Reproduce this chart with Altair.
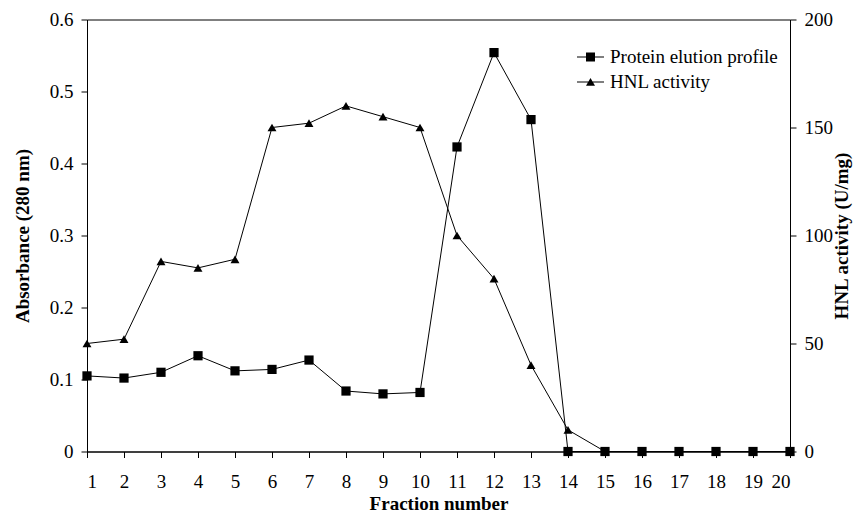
import altair as alt
import pandas as pd

fractions = list(range(1, 21))
protein = [0.105, 0.102, 0.110, 0.133, 0.112, 0.114, 0.127, 0.084, 0.080, 0.082,
           0.423, 0.554, 0.461, 0, 0, 0, 0, 0, 0, 0]
hnl = [50, 52, 88, 85, 89, 150, 152, 160, 155, 150,
       100, 80, 40, 10, 0, 0, 0, 0, 0, 0]
series_names = ["Protein elution profile", "HNL activity"]
left_ticks = [0, 0.1, 0.2, 0.3, 0.4, 0.5, 0.6]
right_ticks = [0, 50, 100, 150, 200]

FONT = "Liberation Serif"

df_p = pd.DataFrame({"fraction": fractions, "value": protein, "series": series_names[0]})
df_h = pd.DataFrame({"fraction": fractions, "value": hnl, "series": series_names[1]})
df_all = pd.concat([df_p, df_h], ignore_index=True)

x_enc = alt.X(
    "fraction:Q",
    scale=alt.Scale(domain=[1, 20], nice=False, zero=False),
    axis=alt.Axis(values=fractions, format="d", title="Fraction number",
                  labelPadding=15, titlePadding=3),
)

y_left = alt.Y(
    "value:Q",
    scale=alt.Scale(domain=[0, 0.6], nice=False),
    axis=alt.Axis(orient="left", values=left_ticks, title="Absorbance (280 nm)",
                  labelExpr="datum.value == 0 ? '0' : format(datum.value, '.1f')",
                  labelPadding=8, titlePadding=17),
)
y_right = alt.Y(
    "value:Q",
    scale=alt.Scale(domain=[0, 200], nice=False),
    axis=alt.Axis(orient="right", values=right_ticks, title="HNL activity (U/mg)",
                  format="d", labelPadding=8, titlePadding=0,
                  titleAngle=-90, titleBaseline="top"),
)

prot_line = alt.Chart(df_p).mark_line(color="black", strokeWidth=1).encode(x=x_enc, y=y_left)
prot_pts = alt.Chart(df_p).mark_point(shape="square", filled=True, size=85,
                                      color="black", opacity=1).encode(x=x_enc, y=y_left)
hnl_line = alt.Chart(df_h).mark_line(color="black", strokeWidth=1).encode(x=x_enc, y=y_right)
hnl_pts = alt.Chart(df_h).mark_point(shape="triangle-up", filled=True, size=80,
                                     color="black", opacity=1).encode(x=x_enc, y=y_right)

# legend symbols: a thin horizontal bar (the line) plus the marker, as filled paths
sq_path = "M-3,-0.11H3V0.11H-3ZM-1,-1H1V1H-1Z"
tri_path = "M-3,-0.11H3V0.11H-3ZM0,-0.9L1,0.85H-1Z"

legend_layer = alt.Chart(df_all).mark_point(
    filled=True, opacity=0, color="black"
).encode(
    x=x_enc,
    shape=alt.Shape(
        "series:N",
        scale=alt.Scale(domain=series_names, range=[sq_path, tri_path]),
        legend=alt.Legend(
            title=None, orient="none", legendX=494, legendY=28, padding=0,
            symbolSize=81, symbolFillColor="black", symbolStrokeColor="black",
            symbolOpacity=1, labelFont=FONT, labelFontSize=19,
            labelColor="black", labelOffset=10, rowPadding=5, labelLimit=400,
        ),
    ),
)

chart = alt.layer(
    alt.layer(prot_line, prot_pts),
    alt.layer(hnl_line, hnl_pts),
    legend_layer,
).resolve_scale(y="independent", shape="independent").properties(
    width=703, height=432,
    background="white",
    autosize=alt.AutoSizeParams(type="none"),
    padding={"left": 79, "top": 11.5, "right": 64, "bottom": 70},
).configure_view(
    stroke="black", strokeWidth=1
).configure_axis(
    grid=False, domainColor="black", domainWidth=1, tickColor="black", tickSize=6,
    tickWidth=1, labelFont=FONT, labelFontSize=19, labelColor="black",
    titleFont=FONT, titleFontSize=19, titleFontWeight="bold", titleColor="black",
)

chart.save("out.html", embed_options={"renderer": "svg", "actions": False})
